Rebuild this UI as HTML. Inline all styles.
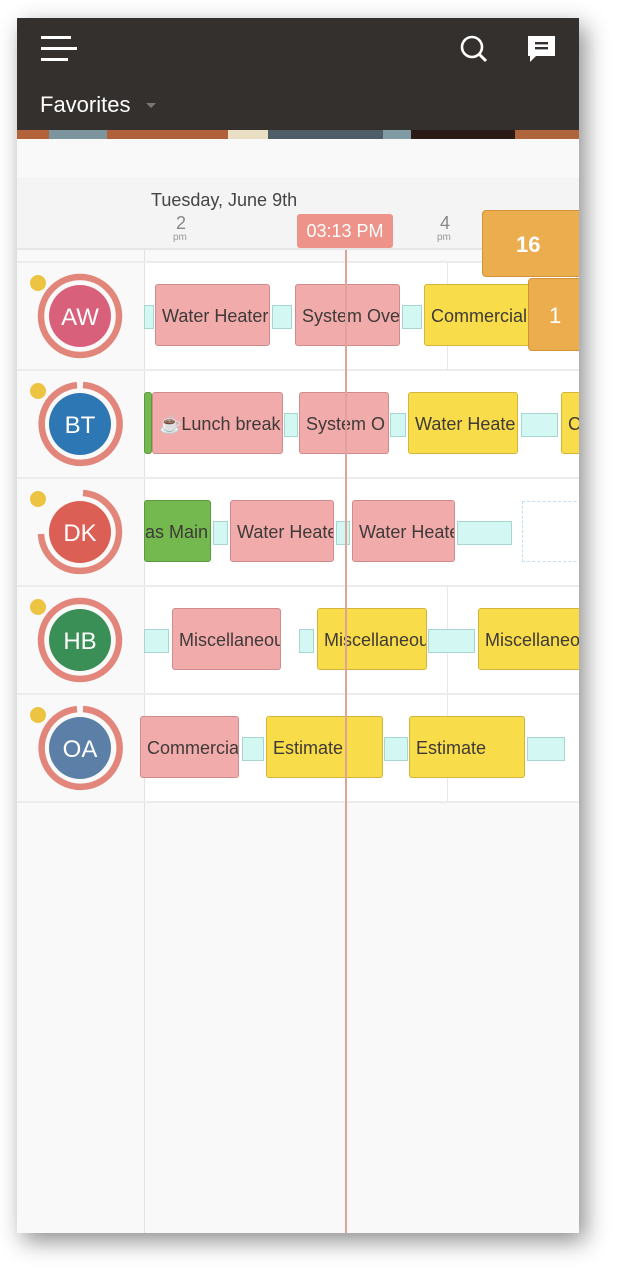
<!DOCTYPE html>
<html><head><meta charset="utf-8"><style>
*{margin:0;padding:0;box-sizing:border-box}
body{width:627px;height:1281px;background:#fff;position:relative;overflow:hidden;font-family:"Liberation Sans",sans-serif}
.a{position:absolute}
#scr{position:absolute;left:17px;top:18px;width:562px;height:1215px;background:#f9f9f9;box-shadow:6px 8px 22px rgba(0,0,0,.45);overflow:hidden}
#clip{position:absolute;left:0;top:0;width:579px;height:1233px;overflow:hidden}
.ev{position:absolute;height:62px;border-radius:3px;font-size:18px;color:#3e3a38;line-height:62px;padding-left:6px;white-space:nowrap;overflow:hidden}
.p{background:#f2abab;border:1px solid #d08b8c}
.y{background:#f9dc49;border:1px solid #d4b43a}
.g{background:#74b94f;border:1px solid #5a9a3a}
.t{position:absolute;height:24px;background:#d3f8f3;border:1px solid #a6d6cf}
</style></head><body>
<div id="scr">
<div class="a" style="left:0;top:0;width:562px;height:112px;background:#33302e"></div>
<div class="a" style="left:24px;top:18px;width:30px;height:3px;background:#fff"></div>
<div class="a" style="left:24px;top:29px;width:36px;height:3px;background:#fff"></div>
<div class="a" style="left:24px;top:40px;width:27px;height:3px;background:#fff"></div>
<svg class="a" style="left:442px;top:16px" width="34" height="32"><circle cx="13" cy="13" r="10" fill="none" stroke="#fff" stroke-width="2.6"/><line x1="20" y1="20" x2="27" y2="27" stroke="#fff" stroke-width="3"/></svg>
<svg class="a" style="left:510px;top:16px" width="30" height="32"><path d="M1 2h27v20H9l-6 6v-6H1z" fill="#fff"/><rect x="8" y="8" width="13" height="2.4" fill="#33302e"/><rect x="8" y="13" width="13" height="2.4" fill="#33302e"/></svg>
<div class="a" style="left:23px;top:74px;color:#fff;font-size:22px">Favorites</div>
<div class="a" style="left:129px;top:85px;width:0;height:0;border-left:5px solid transparent;border-right:5px solid transparent;border-top:5px solid #777"></div>
<div class="a" style="left:0;top:112px;width:562px;height:9px;background:linear-gradient(90deg,#b4623a 0 32px,#7d959c 32px 90px,#b0603a 90px 211px,#e8dfc4 211px 251px,#4f5e66 251px 366px,#819ba4 366px 394px,#2b1a16 394px 498px,#b0643c 498px)"></div>
<div class="a" style="left:0;top:121px;width:562px;height:39px;background:#f9f9f9"></div>
<div class="a" style="left:0;top:160px;width:562px;height:72px;background:#f4f4f4;border-bottom:2px solid #e6e6e6"></div>
<div class="a" style="left:134px;top:172px;font-size:18px;color:#444">Tuesday, June 9th</div>
<div class="a" style="left:159px;top:195px;font-size:18px;color:#888">2</div>
<div class="a" style="left:156px;top:214px;font-size:10px;color:#999">pm</div>
<div class="a" style="left:423px;top:195px;font-size:18px;color:#888">4</div>
<div class="a" style="left:420px;top:214px;font-size:10px;color:#999">pm</div>
<div class="a" style="left:280px;top:196px;width:96px;height:34px;background:#ee938a;border-radius:3px;color:#fff;font-size:18px;line-height:34px;text-align:center">03:13 PM</div>
<div class="a" style="left:127px;top:244px;width:435px;height:540px;background:#fff"></div>
<div class="a" style="left:127px;top:232px;width:1px;height:983px;background:#e2e2e2"></div>
<div class="a" style="left:430px;top:244px;width:1px;height:107px;background:#e8e8e8"></div>
<div class="a" style="left:430px;top:568px;width:1px;height:216px;background:#e8e8e8"></div>
<div class="a" style="left:0;top:243px;width:562px;height:2px;background:#ececec"></div>
<div class="a" style="left:0;top:351px;width:562px;height:2px;background:#ececec"></div>
<div class="a" style="left:0;top:459px;width:562px;height:2px;background:#ececec"></div>
<div class="a" style="left:0;top:567px;width:562px;height:2px;background:#ececec"></div>
<div class="a" style="left:0;top:675px;width:562px;height:2px;background:#ececec"></div>
<div class="a" style="left:0;top:783px;width:562px;height:2px;background:#ececec"></div>
</div>
<div id="clip">
<div class="t" style="left:144px;top:305px;width:10px"></div>
<div class="ev p" style="left:155px;top:284px;width:115px">Water Heater</div>
<div class="t" style="left:272px;top:305px;width:20px"></div>
<div class="ev p" style="left:295px;top:284px;width:105px">System Ove</div>
<div class="t" style="left:402px;top:305px;width:20px"></div>
<div class="ev y" style="left:424px;top:284px;width:113px">Commercial</div>

<div class="ev g" style="left:144px;top:392px;width:7px"></div>
<div class="ev p" style="left:152px;top:392px;width:131px">☕Lunch break</div>
<div class="t" style="left:284px;top:413px;width:14px"></div>
<div class="ev p" style="left:299px;top:392px;width:90px">System O</div>
<div class="t" style="left:390px;top:413px;width:16px"></div>
<div class="ev y" style="left:408px;top:392px;width:110px">Water Heate</div>
<div class="t" style="left:521px;top:413px;width:37px"></div>
<div class="ev y" style="left:561px;top:392px;width:30px">Co</div>

<div class="ev g" style="left:144px;top:500px;width:67px;padding-left:0">as Main</div>
<div class="t" style="left:213px;top:521px;width:15px"></div>
<div class="ev p" style="left:230px;top:500px;width:104px">Water Heater</div>
<div class="t" style="left:336px;top:521px;width:14px"></div>
<div class="ev p" style="left:352px;top:500px;width:103px">Water Heater</div>
<div class="t" style="left:457px;top:521px;width:55px"></div>
<div class="a" style="left:522px;top:501px;width:70px;height:61px;border:1px dashed #bfe0f0"></div>

<div class="t" style="left:144px;top:629px;width:25px"></div>
<div class="ev p" style="left:172px;top:608px;width:109px">Miscellaneous</div>
<div class="t" style="left:299px;top:629px;width:15px"></div>
<div class="ev y" style="left:317px;top:608px;width:110px">Miscellaneous</div>
<div class="t" style="left:428px;top:629px;width:47px"></div>
<div class="ev y" style="left:478px;top:608px;width:110px">Miscellaneous</div>

<div class="ev p" style="left:140px;top:716px;width:99px">Commercial</div>
<div class="t" style="left:242px;top:737px;width:22px"></div>
<div class="ev y" style="left:266px;top:716px;width:117px">Estimate</div>
<div class="t" style="left:384px;top:737px;width:24px"></div>
<div class="ev y" style="left:409px;top:716px;width:116px">Estimate</div>
<div class="t" style="left:527px;top:737px;width:38px"></div>

<div class="a" style="left:345px;top:250px;width:2px;height:983px;background:#e0a39c"></div>
<div class="a" style="left:528px;top:278px;width:60px;height:73px;background:#ecad4f;border:1px solid #d49236;border-radius:4px;color:#fff;font-size:22px;line-height:73px;padding-left:20px">1</div>
<div class="a" style="left:482px;top:210px;width:100px;height:67px;background:#ecad4f;border:1px solid #d49236;border-radius:4px;color:#fff;font-size:22px;font-weight:bold;line-height:67px;padding-left:33px">16</div>
</div>

<svg class="a" style="left:17px;top:262px" width="128" height="540" font-family="Liberation Sans, sans-serif">
<g fill="none" stroke="#e2857a" stroke-width="6.5">
<circle cx="63" cy="54" r="39"/>
<path d="M66 123 A39 39 0 1 1 60 123.1"/>
<path d="M66 231 A39 39 0 1 1 24 272"/>
<circle cx="63" cy="378" r="39"/>
<path d="M66 447 A39 39 0 1 1 60 447.1"/>
</g>
<circle cx="63" cy="54" r="31" fill="#d9607a"/>
<circle cx="63" cy="162" r="31" fill="#2e77b5"/>
<circle cx="63" cy="270" r="31" fill="#dc5f55"/>
<circle cx="63" cy="378" r="31" fill="#3a8f56"/>
<circle cx="63" cy="486" r="31" fill="#5b7fa6"/>
<g fill="#ecc441"><circle cx="21" cy="21" r="8"/><circle cx="21" cy="129" r="8"/><circle cx="21" cy="237" r="8"/><circle cx="21" cy="345" r="8"/><circle cx="21" cy="453" r="8"/></g>
<g fill="#fff" font-size="24" text-anchor="middle">
<text x="63" y="63">AW</text><text x="63" y="171">BT</text><text x="63" y="279">DK</text><text x="63" y="387">HB</text><text x="63" y="495">OA</text></g>
</svg>
</body></html>
